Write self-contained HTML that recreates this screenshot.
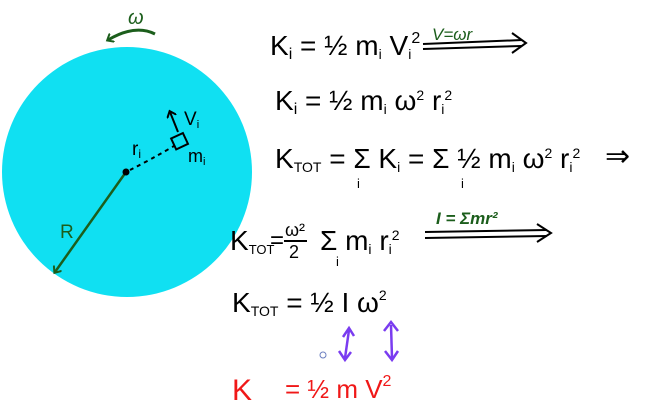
<!DOCTYPE html>
<html><head><meta charset="utf-8"><style>
html,body{margin:0;padding:0;background:#fff;width:649px;height:415px;overflow:hidden}
svg{display:block}
text{font-family:"Liberation Sans",sans-serif}
</style></head><body>
<svg width="649" height="415" viewBox="0 0 649 415">
<defs>
<marker id="ah" markerWidth="10" markerHeight="10" refX="5" refY="5" orient="auto" markerUnits="userSpaceOnUse"><path d="M0,0 L6,5 L0,10" fill="none" stroke="#1c5e1c" stroke-width="2"/></marker>
<marker id="ahk" markerWidth="10" markerHeight="10" refX="5" refY="5" orient="auto" markerUnits="userSpaceOnUse"><path d="M0,0 L6,5 L0,10" fill="none" stroke="#000" stroke-width="2"/></marker>
</defs>
<circle cx="127" cy="172" r="125" fill="#10e0f2"/>
<g>
<path d="M155,34 Q135,24 108,40" fill="none" stroke="#1c5e1c" stroke-width="3" marker-end="url(#ah)"/>
<text x="128" y="24" font-size="20" font-style="italic" fill="#1c5e1c">ω</text>
</g>
<g>
<line x1="126" y1="172" x2="55" y2="272" stroke="#1c5e1c" stroke-width="2.5" marker-end="url(#ah)"/>
<text x="60" y="238" font-size="19" fill="#1c5e1c">R</text>
</g>
<circle cx="126" cy="172" r="3.5" fill="#000"/>
<path d="M130,170 Q150,160 174,146" fill="none" stroke="#000" stroke-width="2" stroke-dasharray="4,4"/>
<text x="132" y="155" font-size="19" fill="#000">r<tspan font-size="12" dy="3">i</tspan></text>
<rect x="173" y="135" width="13" height="12" fill="none" stroke="#000" stroke-width="2" transform="rotate(-25 180 141)"/>
<text x="188" y="162" font-size="18" fill="#000">m<tspan font-size="11" dy="3">i</tspan></text>
<line x1="178" y1="132" x2="170" y2="112" stroke="#000" stroke-width="2" marker-end="url(#ahk)"/>
<text x="184" y="125" font-size="19" fill="#000">V<tspan font-size="11" dy="3">i</tspan></text>

<text x="270" y="55" font-size="28" fill="#000">K<tspan font-size="16" dy="4">i</tspan><tspan dy="-4"> = ½ m</tspan><tspan font-size="14" dy="4">i</tspan><tspan dy="-4"> V</tspan><tspan font-size="14" dy="4">i</tspan><tspan font-size="16" dy="-16">2</tspan></text>
<text x="432" y="40" font-size="17" font-style="italic" fill="#1c5e1c">V=ωr</text>
<g stroke="#000" stroke-width="2" fill="none">
<line x1="423" y1="44" x2="522" y2="40"/><line x1="423" y1="49" x2="522" y2="46"/><path d="M512,33 L526,43 L512,53"/></g>

<text x="275" y="110" font-size="28" fill="#000">K<tspan font-size="16" dy="4">i</tspan><tspan dy="-4"> = ½ m</tspan><tspan font-size="14" dy="4">i</tspan><tspan dy="-4"> ω</tspan><tspan font-size="14" dy="-10">2</tspan><tspan dy="10"> r</tspan><tspan font-size="14" dy="4">i</tspan><tspan font-size="14" dy="-14">2</tspan></text>

<text x="275" y="168" font-size="28" fill="#000">K<tspan font-size="14" dy="4">TOT</tspan><tspan dy="-4"> = Σ K</tspan><tspan font-size="14" dy="4">i</tspan><tspan dy="-4"> = Σ ½ m</tspan><tspan font-size="14" dy="4">i</tspan><tspan dy="-4"> ω</tspan><tspan font-size="14" dy="-10">2</tspan><tspan dy="10"> r</tspan><tspan font-size="14" dy="4">i</tspan><tspan font-size="14" dy="-14">2</tspan></text>
<text x="605" y="166" font-size="30" fill="#000">⇒</text>
<text x="357" y="188" font-size="13" fill="#000">i</text>
<text x="461" y="188" font-size="13" fill="#000">i</text>

<text x="230" y="250" font-size="28" fill="#000">K<tspan font-size="13" dy="4">TOT</tspan></text>
<text x="270" y="248" font-size="24" fill="#000">=</text>
<text x="285" y="236" font-size="18" fill="#000">ω²</text>
<line x1="284" y1="241" x2="307" y2="241" stroke="#000" stroke-width="2"/>
<text x="289" y="258" font-size="18" fill="#000">2</text>
<text x="320" y="250" font-size="28" fill="#000">Σ m<tspan font-size="14" dy="4">i</tspan><tspan dy="-4"> r</tspan><tspan font-size="14" dy="4">i</tspan><tspan font-size="14" dy="-14">2</tspan></text>
<text x="336" y="266" font-size="13" fill="#000">i</text>
<text x="436" y="224" font-size="17" font-style="italic" font-weight="bold" fill="#1c5e1c">I = Σmr²</text>
<g stroke="#000" stroke-width="2" fill="none">
<line x1="425" y1="232" x2="547" y2="230"/><line x1="425" y1="238" x2="547" y2="236"/><path d="M537,224 L551,233 L537,242"/></g>

<text x="232" y="312" font-size="28" fill="#000">K<tspan font-size="14" dy="4">TOT</tspan><tspan dy="-4"> = ½ I ω</tspan><tspan font-size="14" dy="-12">2</tspan></text>
<g stroke="#7a3cf0" stroke-width="2.5" fill="none">
<line x1="349" y1="330" x2="345" y2="358"/><path d="M343,337 L349,328 L354,336"/><path d="M339,351 L345,360 L351,352"/>
<line x1="391" y1="325" x2="392" y2="358"/><path d="M384,331 L391,322 L398,331"/><path d="M385,351 L392,360 L398,351"/>
</g>
<circle cx="323" cy="355" r="3" fill="none" stroke="#6b7fc0" stroke-width="1"/>
<text x="232" y="400" font-size="30" fill="#f01818">K</text>
<text x="285" y="398" font-size="26" fill="#f01818">= ½ m  V<tspan font-size="16" dy="-12">2</tspan></text>
</svg>
</body></html>
